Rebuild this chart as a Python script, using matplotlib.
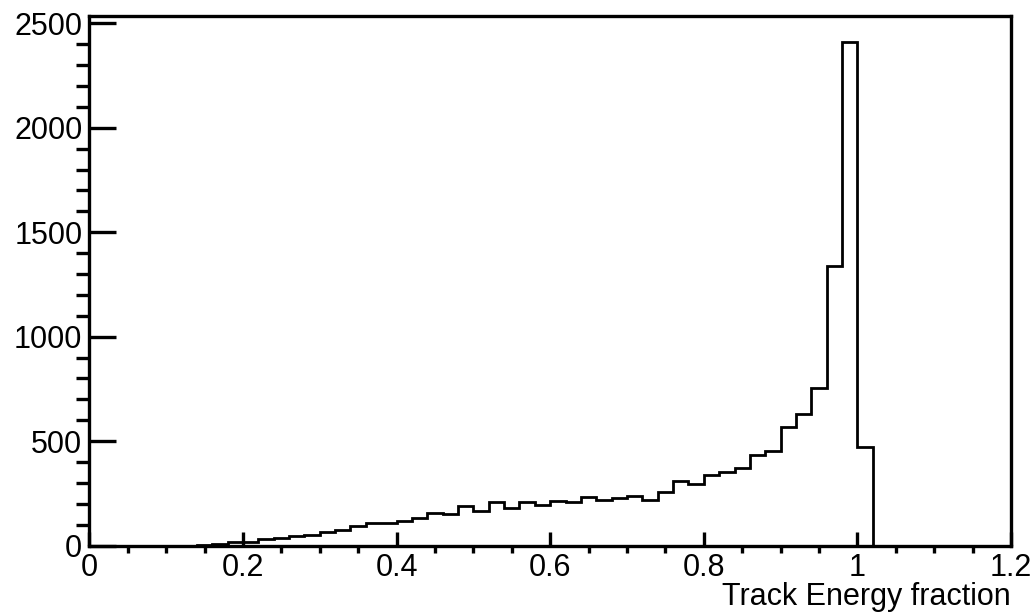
import numpy as np
from matplotlib import pyplot as plt
from matplotlib.ticker import MultipleLocator

# bin edges: 60 bins of width 0.02 from 0 to 1.2
bin_lo = 0.0
bin_hi = 1.2
n_bins = 60

# counts per bin (bins 0.00 .. 1.18)
counts = [
    0, 0, 0, 0, 0, 0, 0, 2, 6, 17,        # 0.00 - 0.18
    19, 30, 38, 46, 50, 64, 74, 95, 108, 110,   # 0.20 - 0.38
    118, 132, 156, 152, 191, 166, 207, 181, 207, 194,  # 0.40 - 0.58
    215, 209, 233, 220, 228, 236, 217, 257, 309, 297,  # 0.60 - 0.78
    340, 353, 372, 432, 453, 568, 628, 754, 1340, 2410,  # 0.80 - 0.98
    470, 0, 0, 0, 0, 0, 0, 0, 0, 0,       # 1.00 - 1.18
]

x_title = "Track Energy fraction"


def main():
    plt.rcParams['font.family'] = ['Liberation Sans', 'DejaVu Sans']

    edges = np.linspace(bin_lo, bin_hi, n_bins + 1)

    fig = plt.figure(figsize=(10.36, 6.13), dpi=100)
    ax = fig.add_axes([0.0862, 0.110, 0.8897, 0.8639])

    ax.stairs(counts, edges, color="black", linewidth=2.0)

    ax.set_xlim(bin_lo, bin_hi)
    ax.set_ylim(0, max(counts) * 1.052)

    ax.xaxis.set_major_locator(MultipleLocator(0.2))
    ax.xaxis.set_minor_locator(MultipleLocator(0.05))
    ax.yaxis.set_major_locator(MultipleLocator(500))
    ax.yaxis.set_minor_locator(MultipleLocator(100))
    ax.xaxis.set_major_formatter(lambda v, p: f"{v:g}")

    for s in ax.spines.values():
        s.set_linewidth(2.4)

    ax.tick_params(direction="in", top=False, right=False, labelsize=22, width=2.4)
    ax.tick_params(axis="x", which="major", length=10, pad=5)
    ax.tick_params(axis="x", which="minor", length=5, width=2.4)
    ax.tick_params(axis="y", which="major", length=19.5, pad=5)
    ax.tick_params(axis="y", which="minor", length=9.5, width=2.4)

    ax.set_xlabel(x_title, fontsize=22, loc="right")
    ax.xaxis.set_label_coords(1.0, -0.069)

    fig.savefig("out.png", dpi=100)


if __name__ == "__main__":
    main()
